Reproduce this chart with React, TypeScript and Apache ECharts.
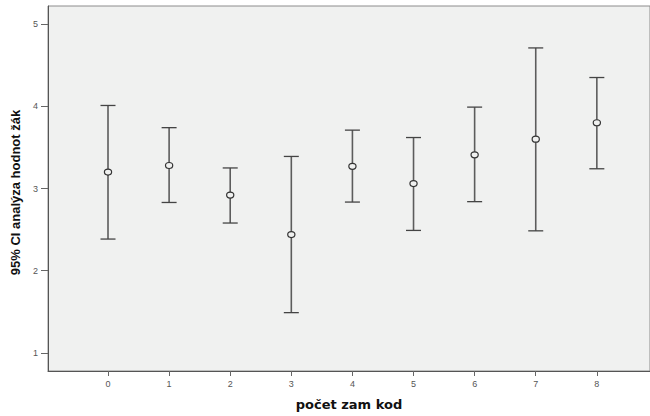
import React, { useEffect, useRef } from "react";
import * as echarts from "echarts";

const categories = [0, 1, 2, 3, 4, 5, 6, 7, 8];
const means = [3.2, 3.28, 2.92, 2.44, 3.27, 3.06, 3.41, 3.6, 3.8];
const upper = [4.01, 3.74, 3.25, 3.39, 3.71, 3.62, 3.99, 4.71, 4.35];
const lower = [2.385, 2.83, 2.58, 1.49, 2.835, 2.49, 2.84, 2.485, 3.24];
const yTicks = [1, 2, 3, 4, 5];

export default function App() {
  const ref = useRef<HTMLDivElement>(null);
  useEffect(() => {
    document.body.style.margin = "0";
    const chart = echarts.init(ref.current!, null, { renderer: "svg" });
    const data = categories.map((c, i) => [c, means[i], lower[i], upper[i]]);
    chart.setOption({
      animation: false,
      backgroundColor: "#ffffff",
      grid: {
        left: 48,
        right: 0,
        top: 6,
        bottom: 42,
        show: true,
        backgroundColor: "#f0f1f0",
        borderColor: "#8c8c8c",
        borderWidth: 1,
      },
      xAxis: {
        type: "value",
        min: -0.982,
        max: 8.87,
        name: "počet zam kod",
        nameLocation: "middle",
        nameGap: 27,
        nameTextStyle: {
          fontFamily: "DejaVu Sans, sans-serif",
          fontWeight: "bold",
          fontSize: 13,
          color: "#111",
        },
        axisLine: { show: true, onZero: false, lineStyle: { color: "#555", width: 1 } },
        axisTick: {
          show: true,
          length: 5,
          customValues: categories,
          lineStyle: { color: "#666" },
        },
        axisLabel: {
          customValues: categories,
          margin: 8,
          fontSize: 9,
          color: "#555",
          fontFamily: "Liberation Sans, Arial, sans-serif",
        },
        splitLine: { show: false },
      },
      yAxis: {
        type: "value",
        min: 0.78,
        max: 5.22,
        name: "95% CI analýza hodnot žák",
        nameLocation: "middle",
        nameGap: 25,
        nameTextStyle: {
          fontFamily: "Liberation Sans, Arial, sans-serif",
          fontWeight: "bold",
          fontSize: 13,
          color: "#111",
          padding: [0, 8, 0, 0],
        },
        axisLine: { show: true, onZero: false, lineStyle: { color: "#555", width: 1 } },
        axisTick: {
          show: true,
          length: 7,
          customValues: yTicks,
          lineStyle: { color: "#666" },
        },
        axisLabel: {
          customValues: yTicks,
          margin: 10,
          fontSize: 9,
          color: "#555",
          fontFamily: "Liberation Sans, Arial, sans-serif",
        },
        splitLine: { show: false },
      },
      series: [
        {
          type: "custom",
          data,
          renderItem: (params: any, api: any) => {
            const x = api.value(0);
            const m = api.value(1);
            const lo = api.value(2);
            const hi = api.value(3);
            const pm = api.coord([x, m]);
            const pl = api.coord([x, lo]);
            const ph = api.coord([x, hi]);
            const cap = 7.5;
            const lineStyle = { stroke: "#5c5c5c", lineWidth: 1.6 };
            return {
              type: "group",
              children: [
                {
                  type: "line",
                  shape: { x1: pl[0], y1: pl[1], x2: pm[0], y2: pm[1] + 3 },
                  style: lineStyle,
                },
                {
                  type: "line",
                  shape: { x1: ph[0], y1: ph[1], x2: pm[0], y2: pm[1] - 3 },
                  style: lineStyle,
                },
                {
                  type: "line",
                  shape: { x1: pl[0] - cap, y1: pl[1], x2: pl[0] + cap, y2: pl[1] },
                  style: { stroke: "#444", lineWidth: 1.3 },
                },
                {
                  type: "line",
                  shape: { x1: ph[0] - cap, y1: ph[1], x2: ph[0] + cap, y2: ph[1] },
                  style: { stroke: "#444", lineWidth: 1.3 },
                },
                {
                  type: "ellipse",
                  shape: { cx: pm[0], cy: pm[1], rx: 3.6, ry: 3 },
                  style: { stroke: "#333", lineWidth: 1.2, fill: "none" },
                },
              ],
            };
          },
        },
      ],
    });
    return () => chart.dispose();
  }, []);
  return <div ref={ref} style={{ width: 650, height: 416 }} />;
}
